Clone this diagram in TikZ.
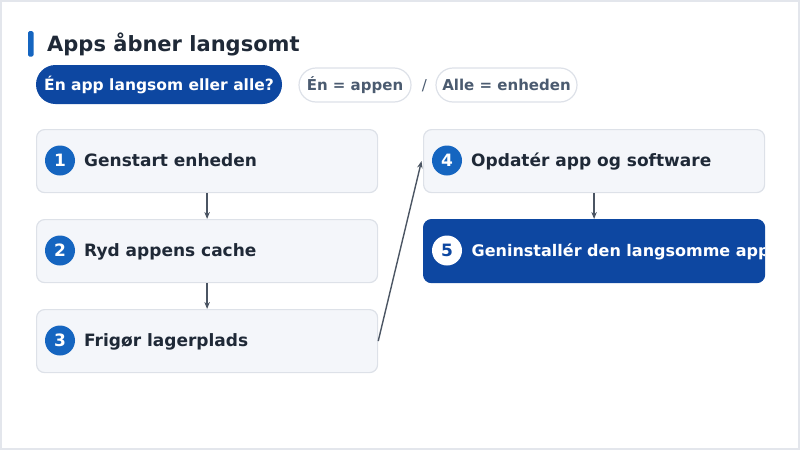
\documentclass[tikz,border=0pt]{standalone}
\usepackage{fontspec}
\setmainfont{DejaVu Sans}
\usetikzlibrary{arrows.meta}
\definecolor{frame}{HTML}{E3E6EC}
\definecolor{accent}{HTML}{1565C0}
\definecolor{navy}{HTML}{0D47A1}
\definecolor{ink}{HTML}{1F2937}
\definecolor{slate}{HTML}{4B5B70}
\definecolor{boxfill}{HTML}{F4F6FA}
\definecolor{boxline}{HTML}{DDE1E8}
\definecolor{arrowc}{HTML}{4B5563}
\tikzset{
  stepbox/.style={draw=boxline, fill=boxfill, rounded corners=8pt, line width=1.2pt,
    minimum width=341pt, minimum height=63pt, inner sep=0pt, anchor=north west},
  hotbox/.style={stepbox, draw=navy, fill=navy},
  numdot/.style={circle, fill=accent, minimum size=30pt, inner sep=0pt, text=white,
    font=\bfseries\fontsize{17}{20}\selectfont, text height=12.4pt, text depth=0pt},
  steplabel/.style={anchor=base west, inner sep=0pt, text=ink, font=\bfseries\fontsize{17}{20}\selectfont},
  pill/.style={draw=boxline, fill=white, line width=1.2pt, minimum height=34pt, rounded corners=17pt,
    inner sep=0pt, text=slate, font=\bfseries\fontsize{15}{18}\selectfont, text height=11pt, text depth=0pt},
  conn/.style={draw=arrowc, line width=1.4pt, -{Stealth[length=7pt,width=5.5pt]}}
}
\begin{document}
\begin{tikzpicture}[x=1pt,y=-1pt]
\useasboundingbox (0,0) rectangle (800,450);
\draw[frame, line width=2pt] (1,1) rectangle (799,449);
% title
\fill[accent, rounded corners=1.5pt] (28,31) rectangle (33.5,56.5);
\node[anchor=base west, inner sep=0pt, text=ink, font=\bfseries\fontsize{21}{25}\selectfont] (title) at (47,51.5) {Apps åbner langsomt};
% question pill
\node[fill=navy, minimum width=246pt, minimum height=39pt, rounded corners=19.5pt, inner sep=0pt,
  text=white, font=\bfseries\fontsize{15.5}{18}\selectfont, text height=11.3pt, text depth=0pt] (q) at (159,84.5) {Én app langsom eller alle?};
\node[pill, minimum width=112pt] (one) at (355,85) {Én = appen};
\node[text=slate, font=\fontsize{15}{18}\selectfont, inner sep=0pt, text height=11pt, text depth=0pt] (slash) at (424.5,85) {/};
\node[pill, minimum width=141pt] (all) at (506.5,85) {Alle = enheden};
% boxes
\node[stepbox] (b1) at (36,129) {};
\node[stepbox] (b2) at (36,219) {};
\node[stepbox] (b3) at (36,309) {};
\node[stepbox] (b4) at (423,129) {};
\node[hotbox] (b5) at (423,219) {};
% numbers and labels
\node[numdot] (n1) at (60,160.5) {1};
\node[steplabel] (l1) at (84,166.7) {Genstart enheden};
\node[numdot] (n2) at (60,250.5) {2};
\node[steplabel] (l2) at (84,256.7) {Ryd appens cache};
\node[numdot] (n3) at (60,340.5) {3};
\node[steplabel] (l3) at (84,346.7) {Frigør lagerplads};
\node[numdot] (n4) at (447,160.5) {4};
\node[steplabel] (l4) at (471,166.7) {Opdatér app og software};
\begin{scope}
\clip[rounded corners=8pt] (423,219) rectangle (764,282);
\node[numdot, fill=white, text=navy] (n5) at (447,250.5) {5};
\node[steplabel, text=white, font=\bfseries\fontsize{16}{19}\selectfont] (l5) at (471.5,256.4) {Geninstallér den langsomme app};
\end{scope}
% connectors
\draw[conn] (b1.south) -- (b2.north);
\draw[conn] (b2.south) -- (b3.north);
\draw[conn] (b3.east) -- ([xshift=-1.5pt]b4.west);
\draw[conn] (b4.south) -- (b5.north);
\end{tikzpicture}
\end{document}
